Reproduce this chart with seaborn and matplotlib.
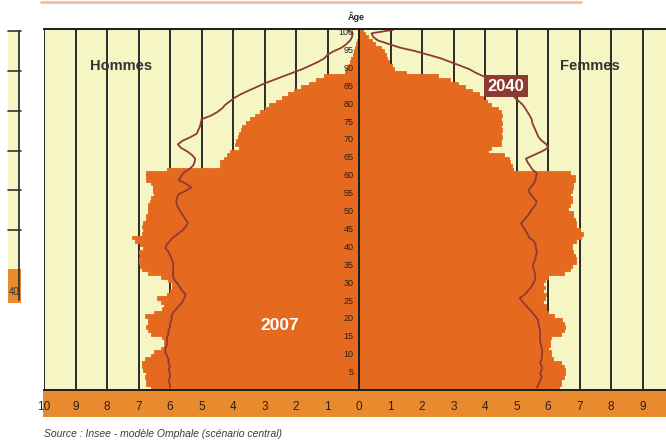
import numpy as np
import pandas as pd
import matplotlib
matplotlib.use('Agg')
import matplotlib.pyplot as plt
import seaborn as sns
from matplotlib.patches import Rectangle
from matplotlib.lines import Line2D

# Pyramide des ages France, 2007 (barres) et projection 2040 (ligne), pour mille
ages = np.arange(0, 101)

hommes_2007 = [
    6.6, 6.75, 6.75, 6.8, 6.75, 6.85, 6.9, 6.9, 6.8, 6.6,
    6.5, 6.3, 6.2, 6.2, 6.25, 6.6, 6.7, 6.75, 6.7, 6.7,
    6.8, 6.5, 6.25, 6.2, 6.3, 6.4, 6.1, 6.0, 5.95, 5.95,
    6.05, 6.3, 6.7, 6.9, 6.95, 7.0, 7.0, 6.95, 7.0, 6.85,
    6.95, 7.1, 7.2, 6.9, 6.85, 6.9, 6.85, 6.75, 6.75, 6.7,
    6.7, 6.7, 6.65, 6.6, 6.5, 6.55, 6.55, 6.6, 6.75, 6.75,
    6.75, 6.1, 4.4, 4.4, 4.3, 4.2, 4.1, 3.8, 3.95, 3.9,
    3.85, 3.8, 3.75, 3.7, 3.6, 3.45, 3.3, 3.15, 3.0, 2.85,
    2.65, 2.45, 2.25, 2.05, 1.85, 1.6, 1.35, 1.1, 0.45, 0.4,
    0.35, 0.3, 0.25, 0.2, 0.15, 0.12, 0.09, 0.06, 0.04, 0.03,
    0.02]

femmes_2007 = [
    6.35, 6.4, 6.4, 6.5, 6.55, 6.55, 6.5, 6.4, 6.15, 6.1,
    6.1, 6.0, 6.05, 6.05, 6.1, 6.4, 6.5, 6.55, 6.5, 6.45,
    6.2, 6.0, 5.95, 5.95, 5.85, 5.9, 5.95, 5.85, 5.9, 5.85,
    5.9, 6.0, 6.5, 6.7, 6.75, 6.9, 6.9, 6.85, 6.8, 6.75,
    6.75, 6.9, 7.05, 7.1, 7.0, 6.9, 6.9, 6.85, 6.8, 6.8,
    6.65, 6.7, 6.75, 6.75, 6.7, 6.75, 6.8, 6.8, 6.85, 6.85,
    6.7, 4.9, 4.85, 4.8, 4.75, 4.6, 4.1, 4.2, 4.5, 4.5,
    4.55, 4.5, 4.55, 4.5, 4.55, 4.5, 4.55, 4.5, 4.4, 4.2,
    4.05, 3.95, 3.8, 3.6, 3.35, 3.15, 2.9, 2.5, 1.5, 1.1,
    1.05, 0.95, 0.9, 0.85, 0.8, 0.7, 0.5, 0.4, 0.3, 0.2,
    0.12]

hommes_2040 = [
    6.0, 6.0, 6.05, 6.0, 6.0, 6.05, 6.0, 6.05, 6.05, 6.1,
    6.15, 6.15, 6.1, 6.1, 6.1, 6.05, 6.05, 6.0, 6.0, 5.95,
    5.95, 5.9, 5.8, 5.7, 5.6, 5.55, 5.5, 5.6, 5.68, 5.75,
    5.85, 5.9, 5.9, 5.9, 5.9, 5.9, 5.95, 6.0, 6.05, 6.15,
    6.1, 6.0, 5.9, 5.75, 5.6, 5.5, 5.43, 5.5, 5.58, 5.65,
    5.72, 5.78, 5.8, 5.78, 5.73, 5.5, 5.32, 5.5, 5.73, 5.65,
    5.58, 5.4, 5.27, 5.22, 5.2, 5.3, 5.45, 5.65, 5.75, 5.6,
    5.35, 5.15, 5.1, 5.05, 5.02, 5.0, 4.7, 4.5, 4.35, 4.25,
    4.1, 3.95, 3.75, 3.5, 3.25, 3.0, 2.7, 2.4, 2.1, 1.8,
    1.55, 1.3, 1.1, 1.0, 0.8, 0.55, 0.4, 0.28, 0.22, 0.2,
    0.35]

femmes_2040 = [
    5.65, 5.7, 5.75, 5.8, 5.75, 5.8, 5.8, 5.75, 5.8, 5.8,
    5.82, 5.8, 5.78, 5.75, 5.75, 5.75, 5.75, 5.72, 5.7, 5.68,
    5.6, 5.5, 5.4, 5.3, 5.2, 5.1, 5.25, 5.35, 5.45, 5.52,
    5.58, 5.6, 5.58, 5.55, 5.52, 5.55, 5.6, 5.62, 5.65, 5.62,
    5.6, 5.55, 5.4, 5.35, 5.28, 5.2, 5.15, 5.25, 5.35, 5.43,
    5.5, 5.6, 5.64, 5.55, 5.45, 5.38, 5.45, 5.55, 5.6, 5.62,
    5.64, 5.5, 5.43, 5.35, 5.3, 5.55, 5.8, 6.0, 5.95, 5.8,
    5.7, 5.65, 5.6, 5.55, 5.5, 5.48, 5.42, 5.35, 5.28, 5.2,
    5.08, 4.95, 4.85, 4.7, 4.55, 4.4, 4.2, 3.95, 3.7, 3.5,
    3.2, 2.9, 2.6, 2.2, 1.8, 1.3, 0.95, 0.6, 0.45, 0.4,
    1.1]

x_ticks = list(range(-10, 11))
x_labels = [str(abs(t)) for t in x_ticks]
age_ticks = list(range(5, 101, 5))

orange = '#E5691E'
bande = '#EA8A2E'
fond = '#F6F5C4'
brun = '#8E3B36'

sns.set_style('white')
plt.rcParams['font.family'] = ['Liberation Sans', 'DejaVu Sans']

W, H = 666, 441
fig = plt.figure(figsize=(W / 100, H / 100), dpi=100)
ax = fig.add_axes([44 / W, (H - 389.6) / H, 630 / W, (389.6 - 29) / H])
ax.set_facecolor(fond)

df = pd.DataFrame({
    'age': ages + 0.5,
    'h2007': -np.array(hommes_2007),
    'f2007': np.array(femmes_2007),
    'h2040': -np.array(hommes_2040),
    'f2040': np.array(femmes_2040),
})

# grille verticale derriere les barres
ax.vlines(x_ticks, 0, 1, transform=ax.get_xaxis_transform(),
          color='#1c1c1c', lw=1.3, zorder=0.5)

for col in ['h2007', 'f2007']:
    sns.barplot(data=df, x=col, y='age', orient='y', native_scale=True,
                width=1, color=orange, saturation=1, errorbar=None,
                linewidth=0.6, edgecolor=orange, ax=ax)

for col in ['h2040', 'f2040']:
    sns.lineplot(data=df, x=col, y='age', orient='y', estimator=None,
                 color=brun, lw=1.3, ax=ax)

ax.set_xlim(-10, 10)
ax.set_ylim(0, 100.7)
ax.set_xlabel('')
ax.set_ylabel('')
ax.set_axisbelow(False)  # les ages restent lisibles sur les barres

ax.spines['left'].set_position(('data', 0))
ax.spines['right'].set_visible(False)
for s in ['left', 'top', 'bottom']:
    ax.spines[s].set_color('#1c1c1c')
    ax.spines[s].set_linewidth(1.4)

ax.set_xticks(x_ticks)
ax.set_xticklabels(x_labels)
ax.tick_params(axis='x', direction='out', length=4.3, width=1.2, pad=4,
               labelsize=8.5, colors='#222222')
ax.set_yticks(age_ticks)
ax.set_yticklabels([str(a) for a in age_ticks])
ax.tick_params(axis='y', direction='out', length=3, width=1.2, pad=0.8,
               labelsize=6.5, colors='#222222')

# bande orange sous l'axe
fig.patches.append(Rectangle((43 / W, (H - 417) / H), 1, 27 / H,
                             transform=fig.transFigure, fc=bande, ec='none', zorder=-1))

# filet orange en haut
fig.add_artist(Line2D([41 / W, 581 / W], [1 - 1.5 / H] * 2, color='#F4BE96', lw=2))

# morceau du graphique voisin a gauche
fig.patches.append(Rectangle((8 / W, (H - 269) / H), 10.5 / W, 238 / H,
                             transform=fig.transFigure, fc=fond, ec='none', zorder=-1))
fig.add_artist(Line2D([18.5 / W] * 2, [1 - 31 / H, 1 - 300 / H], color='#333333', lw=1.3))
for py in [31, 71, 111, 151, 190, 230]:
    fig.add_artist(Line2D([8 / W, 21 / W], [1 - py / H] * 2, color='#333333', lw=1.2))
fig.patches.append(Rectangle((8 / W, (H - 303) / H), 13 / W, 34 / H,
                             transform=fig.transFigure, fc=bande, ec='none', zorder=-1))
fig.text(14 / W, 1 - 292 / H, '40', fontsize=7, color='#333333', ha='center', va='center')

# textes
fig.text(121 / W, 1 - 66 / H, 'Hommes', fontsize=10.5, fontweight='bold',
         color='#333333', ha='center', va='center')
fig.text(590 / W, 1 - 66 / H, 'Femmes', fontsize=10.5, fontweight='bold',
         color='#333333', ha='center', va='center')
fig.text(356 / W, 1 - 17 / H, 'Âge', fontsize=6.5, fontweight='bold',
         color='#222222', ha='center', va='center')
fig.text(280 / W, 1 - 325 / H, '2007', fontsize=12.5, fontweight='bold',
         color='white', ha='center', va='center')
fig.text(506 / W, 1 - 86 / H, '2040', fontsize=12, fontweight='bold', color='white',
         ha='center', va='center',
         bbox=dict(boxstyle='square,pad=0.22', fc='#8E3A33', ec='none'))
fig.text(44 / W, 1 - 434 / H, 'Source : Insee - modèle Omphale (scénario central)',
         fontsize=7.5, style='italic', color='#3a3a3a', ha='left', va='center')

fig.savefig('out.png', dpi=100)
